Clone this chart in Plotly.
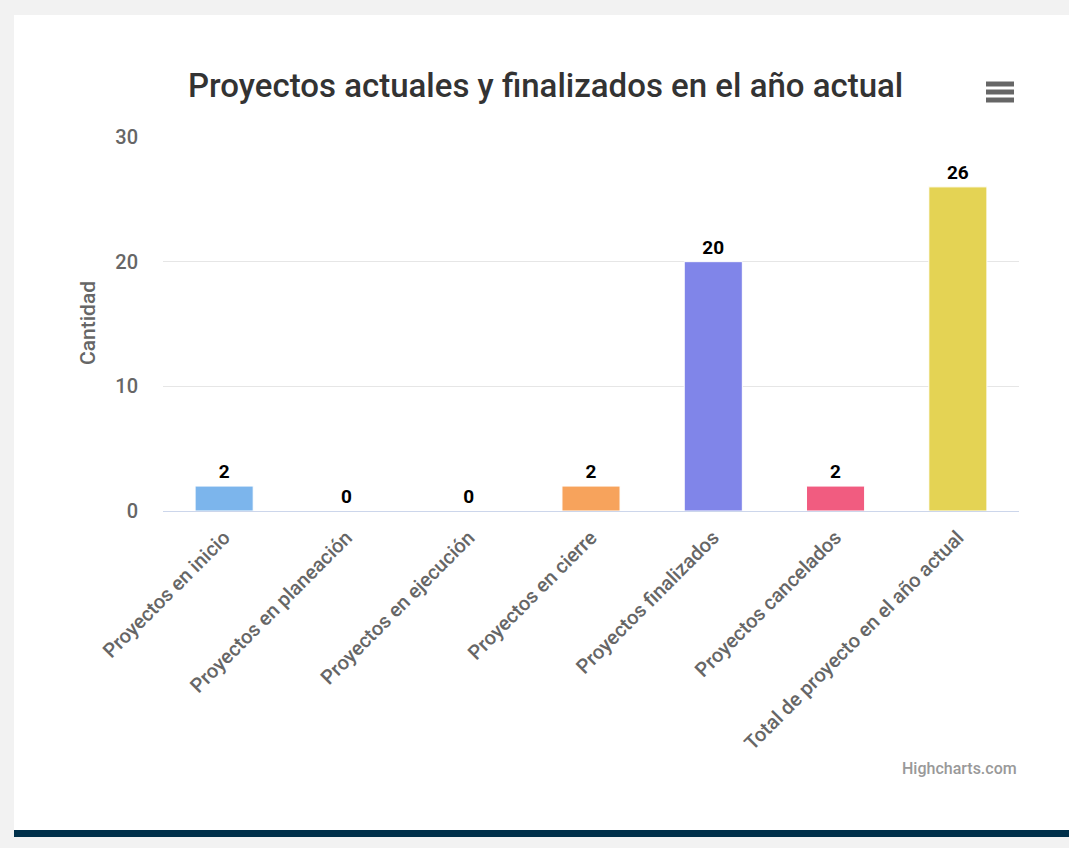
import plotly.graph_objects as go

categories = ["Proyectos en inicio", "Proyectos en planeación", "Proyectos en ejecución",
              "Proyectos en cierre", "Proyectos finalizados", "Proyectos cancelados",
              "Total de proyecto en el año actual"]
values = [2, 0, 0, 2, 20, 2, 26]
colors = ["#7cb5ec", "#434348", "#90ed7d", "#f7a35c", "#8085e9", "#f15c80", "#e4d354"]
y_ticks = [0, 10, 20, 30]

W, H = 1069, 848
L, R, T, B = 163, 1019, 137, 511


def px(x):
    return (x - L) / (R - L)


def py(y):
    return (B - y) / (B - T)


fig = go.Figure(go.Bar(
    x=categories, y=values, marker=dict(color=colors, line=dict(width=1, color="#ffffff")),
    text=[str(v) for v in values], textposition="outside", cliponaxis=False,
    textfont=dict(family="Roboto", size=19, color="#000000", weight="bold"),
))

shapes = [
    dict(type="rect", xref="paper", yref="paper", x0=px(14), x1=px(1075), y0=py(15), y1=py(831),
         fillcolor="#ffffff", line=dict(width=0), layer="below"),
    dict(type="rect", xref="paper", yref="paper", x0=px(14), x1=px(1075), y0=py(830), y1=py(837),
         fillcolor="#00304a", line=dict(width=0), layer="below"),
]
for yy in (84, 92, 100):
    shapes.append(dict(type="line", xref="paper", yref="paper", x0=px(986), x1=px(1014),
                       y0=py(yy), y1=py(yy), line=dict(color="#666666", width=5)))

annotations = [
    dict(text="Proyectos actuales y finalizados en el año actual", xref="paper", yref="paper",
         x=px(545), y=py(85), xanchor="center", yanchor="middle", showarrow=False,
         font=dict(family="Roboto", size=33, color="#333333", weight=500)),
    dict(text="Cantidad", xref="paper", yref="paper", x=px(88), y=py(323), textangle=-90,
         xanchor="center", yanchor="middle", showarrow=False,
         font=dict(family="Roboto", size=21, color="#666666", weight=500)),
    dict(text="Highcharts.com", xref="paper", yref="paper", x=px(1019), y=py(768),
         xanchor="right", yanchor="middle", showarrow=False,
         font=dict(family="Roboto", size=16, color="#999999", weight=500)),
]

fig.update_layout(
    width=W, height=H, autosize=False,
    margin=dict(l=L, r=W - R, t=T, b=H - B, pad=0),
    paper_bgcolor="#f2f2f2", plot_bgcolor="rgba(0,0,0,0)",
    bargap=0.525, showlegend=False,
    shapes=shapes, annotations=annotations,
    font=dict(family="Roboto"),
    xaxis=dict(tickangle=-45, tickfont=dict(family="Roboto", size=20, color="#666666", weight=500),
               showline=True, linecolor="#ccd6eb", linewidth=1, showgrid=False,
               ticks="", ticklabelstandoff=6, fixedrange=True),
    yaxis=dict(range=[0, 30], tickvals=y_ticks, showgrid=True, gridcolor="#e6e6e6",
               zeroline=False, tickfont=dict(family="Roboto", size=20, color="#666666", weight=500),
               ticklabelstandoff=24, fixedrange=True),
)

fig.write_html("out.html", config={"displayModeBar": False},
               post_script="document.body.style.margin='0';document.body.style.overflow='hidden';"
                           "document.body.style.background='#f2f2f2';")
